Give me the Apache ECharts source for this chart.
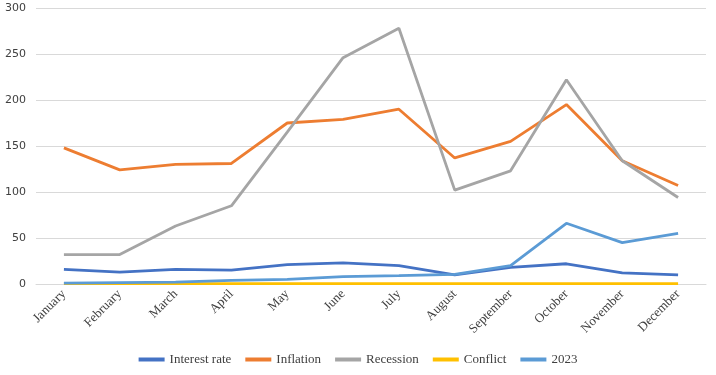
<!DOCTYPE html>
<html>
<head>
<meta charset="utf-8">
<script src="https://cdn.jsdelivr.net/npm/echarts@6/dist/echarts.min.js"></script>
<style>
  html, body { margin: 0; padding: 0; background: #fff; }
  #main { width: 716px; height: 375px; }
</style>
</head>
<body>
<div id="main"></div>
<script>
const months = ['January', 'February', 'March', 'April', 'May', 'June', 'July', 'August', 'September', 'October', 'November', 'December'];
const interestRate = [16, 13, 16, 15, 21, 23, 20, 10, 18, 22, 12, 10];
const inflation = [148, 124, 130, 131, 175, 179, 190, 137, 155, 195, 134, 107];
const recession = [32, 32, 63, 85, 165, 246, 278, 102, 123, 222, 134, 94];
const conflict = [0.5, 0.5, 0.5, 0.5, 0.5, 0.5, 0.5, 0.5, 0.5, 0.5, 0.5, 0.5];
const y2023 = [1, 1.5, 2, 4, 5, 8, 9, 10.5, 20, 66, 45, 55];

const chart = echarts.init(document.getElementById('main'));

function line(name, data, color, z) {
  return {
    name: name,
    type: 'line',
    data: data,
    symbol: 'none',
    z: z,
    lineStyle: { width: 2.8, color: color },
    itemStyle: { color: color }
  };
}

chart.setOption({
  animation: false,
  grid: { left: 36, right: 10, top: 8, bottom: 91 },
  legend: {
    bottom: 4,
    itemWidth: 26,
    itemHeight: 4,
    itemGap: 14,
    icon: 'rect',
    textStyle: { fontFamily: 'Liberation Serif', fontSize: 13, color: '#404040' },
    data: ['Interest rate', 'Inflation', 'Recession', 'Conflict', '2023']
  },
  xAxis: {
    type: 'category',
    data: months,
    boundaryGap: true,
    axisLine: { lineStyle: { color: '#d9d9d9' } },
    axisTick: { show: false },
    axisLabel: {
      rotate: 45,
      interval: 0,
      color: '#404040',
      fontFamily: 'Liberation Serif',
      fontSize: 13,
      margin: 8
    }
  },
  yAxis: {
    type: 'value',
    min: 0,
    max: 300,
    interval: 50,
    axisLine: { show: false },
    axisTick: { show: false },
    splitLine: { lineStyle: { color: '#d9d9d9' } },
    axisLabel: { color: '#404040', fontFamily: 'DejaVu Sans', fontSize: 11, margin: 10 }
  },
  series: [
    line('Interest rate', interestRate, '#4472C4', 2),
    line('Inflation', inflation, '#ED7D31', 2),
    line('Recession', recession, '#A5A5A5', 2),
    line('Conflict', conflict, '#FFC000', 2),
    line('2023', y2023, '#5B9BD5', 3)
  ]
});
</script>
</body>
</html>
